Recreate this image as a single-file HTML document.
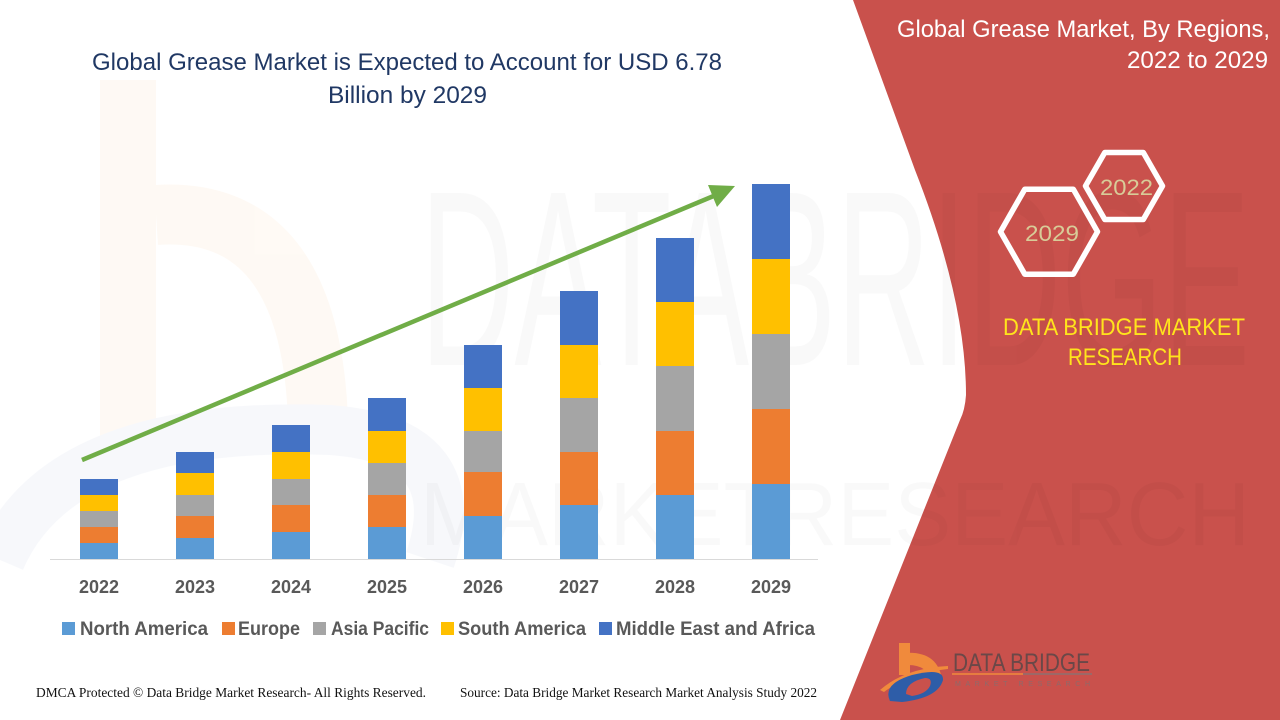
<!DOCTYPE html>
<html>
<head>
<meta charset="utf-8">
<style>
  html,body{margin:0;padding:0;background:#fff;}
  svg{display:block;}
  text{font-family:"Liberation Sans",sans-serif;}
</style>
</head>
<body>
<svg width="1280" height="720" viewBox="0 0 1280 720" xmlns="http://www.w3.org/2000/svg">
  <defs>
    <clipPath id="redclip"><path d="M853,0 L915,170 Q966,300 966,395 Q965,410 960,420 L840,720 L1280,720 L1280,0 Z"/></clipPath>
  </defs>
  <rect x="0" y="0" width="1280" height="720" fill="#ffffff"/>

  <!-- faint background watermark -->
  <g opacity="0.045">
    <rect x="100" y="80" width="56" height="370" fill="#F7931E"/>
    <path d="M156,215 Q310,205 318,420" fill="none" stroke="#F7931E" stroke-width="60"/>
    <path d="M0,560 Q60,420 330,430 Q470,440 430,560" fill="none" stroke="#5B7DB8" stroke-width="50"/>
  </g>
  <text x="420" y="365" font-size="250" fill="#000" opacity="0.018" textLength="830" lengthAdjust="spacingAndGlyphs">DATABRIDGE</text>
  <text x="420" y="545" font-size="90" fill="#000" opacity="0.018" textLength="830" lengthAdjust="spacingAndGlyphs">MARKETRESEARCH</text>

  <!-- red panel -->
  <path d="M853,0 L915,170 Q966,300 966,395 Q965,410 960,420 L840,720 L1280,720 L1280,0 Z" fill="#C9514C"/>
  <g clip-path="url(#redclip)">
    <text x="420" y="365" font-size="250" fill="#000" opacity="0.025" textLength="830" lengthAdjust="spacingAndGlyphs">DATABRIDGE</text>
    <text x="420" y="545" font-size="90" fill="#000" opacity="0.025" textLength="830" lengthAdjust="spacingAndGlyphs">MARKETRESEARCH</text>
  </g>

  <!-- main title -->
  <text x="92" y="70" font-size="24" fill="#203864" textLength="630" lengthAdjust="spacingAndGlyphs">Global Grease Market is Expected to Account for USD 6.78</text>
  <text x="328" y="103" font-size="24" fill="#203864" textLength="159" lengthAdjust="spacingAndGlyphs">Billion by 2029</text>

  <!-- right title -->
  <text x="897" y="37" font-size="24" fill="#ffffff" textLength="373" lengthAdjust="spacingAndGlyphs">Global Grease Market, By Regions,</text>
  <text x="1127" y="68" font-size="24" fill="#ffffff" textLength="141" lengthAdjust="spacingAndGlyphs">2022 to 2029</text>

  <!-- hexagons -->
  <polygon points="1000.5,231.7 1024.8,189.2 1073.3,189.2 1097.5,231.7 1073.3,274.2 1024.8,274.2" fill="none" stroke="#ffffff" stroke-width="5.5" stroke-linejoin="round"/>
  <polygon points="1085.5,186 1104.8,152.5 1143.3,152.5 1162.5,186 1143.3,219.5 1104.8,219.5" fill="none" stroke="#ffffff" stroke-width="5.5" stroke-linejoin="round"/>
  <text x="1025" y="241" font-size="22" fill="#D8CC98" textLength="54" lengthAdjust="spacingAndGlyphs">2029</text>
  <text x="1100" y="195" font-size="22" fill="#D8CC98" textLength="53" lengthAdjust="spacingAndGlyphs">2022</text>

  <!-- DBMR yellow -->
  <text x="1003" y="335" font-size="24" fill="#FFE41C" textLength="242" lengthAdjust="spacingAndGlyphs">DATA BRIDGE MARKET</text>
  <text x="1068" y="365" font-size="24" fill="#FFE41C" textLength="114" lengthAdjust="spacingAndGlyphs">RESEARCH</text>

  <!-- axis -->
  <line x1="50" y1="559.5" x2="818" y2="559.5" stroke="#D9D9D9" stroke-width="1"/>

  <!-- bars -->
  <g>
    <rect x="80" y="543" width="38" height="16" fill="#5B9BD5"/>
    <rect x="80" y="527" width="38" height="16" fill="#ED7D31"/>
    <rect x="80" y="511" width="38" height="16" fill="#A5A5A5"/>
    <rect x="80" y="495" width="38" height="16" fill="#FFC000"/>
    <rect x="80" y="479" width="38" height="16" fill="#4472C4"/>

    <rect x="176" y="538" width="38" height="21" fill="#5B9BD5"/>
    <rect x="176" y="516" width="38" height="22" fill="#ED7D31"/>
    <rect x="176" y="495" width="38" height="21" fill="#A5A5A5"/>
    <rect x="176" y="473" width="38" height="22" fill="#FFC000"/>
    <rect x="176" y="452" width="38" height="21" fill="#4472C4"/>

    <rect x="272" y="532" width="38" height="27" fill="#5B9BD5"/>
    <rect x="272" y="505" width="38" height="27" fill="#ED7D31"/>
    <rect x="272" y="479" width="38" height="26" fill="#A5A5A5"/>
    <rect x="272" y="452" width="38" height="27" fill="#FFC000"/>
    <rect x="272" y="425" width="38" height="27" fill="#4472C4"/>

    <rect x="368" y="527" width="38" height="32" fill="#5B9BD5"/>
    <rect x="368" y="495" width="38" height="32" fill="#ED7D31"/>
    <rect x="368" y="463" width="38" height="32" fill="#A5A5A5"/>
    <rect x="368" y="431" width="38" height="32" fill="#FFC000"/>
    <rect x="368" y="398" width="38" height="33" fill="#4472C4"/>

    <rect x="464" y="516" width="38" height="43" fill="#5B9BD5"/>
    <rect x="464" y="472" width="38" height="44" fill="#ED7D31"/>
    <rect x="464" y="431" width="38" height="41" fill="#A5A5A5"/>
    <rect x="464" y="388" width="38" height="43" fill="#FFC000"/>
    <rect x="464" y="345" width="38" height="43" fill="#4472C4"/>

    <rect x="560" y="505" width="38" height="54" fill="#5B9BD5"/>
    <rect x="560" y="452" width="38" height="53" fill="#ED7D31"/>
    <rect x="560" y="398" width="38" height="54" fill="#A5A5A5"/>
    <rect x="560" y="345" width="38" height="53" fill="#FFC000"/>
    <rect x="560" y="291" width="38" height="54" fill="#4472C4"/>

    <rect x="656" y="495" width="38" height="64" fill="#5B9BD5"/>
    <rect x="656" y="431" width="38" height="64" fill="#ED7D31"/>
    <rect x="656" y="366" width="38" height="65" fill="#A5A5A5"/>
    <rect x="656" y="302" width="38" height="64" fill="#FFC000"/>
    <rect x="656" y="238" width="38" height="64" fill="#4472C4"/>

    <rect x="752" y="484" width="38" height="75" fill="#5B9BD5"/>
    <rect x="752" y="409" width="38" height="75" fill="#ED7D31"/>
    <rect x="752" y="334" width="38" height="75" fill="#A5A5A5"/>
    <rect x="752" y="259" width="38" height="75" fill="#FFC000"/>
    <rect x="752" y="184" width="38" height="75" fill="#4472C4"/>
  </g>

  <!-- arrow -->
  <line x1="82" y1="460" x2="716" y2="195" stroke="#70AD47" stroke-width="4.5"/>
  <polygon points="735,186 708,185 717,207" fill="#70AD47"/>

  <!-- year labels -->
  <g font-size="18" font-weight="bold" fill="#595959" text-anchor="middle">
    <text x="99" y="593">2022</text>
    <text x="195" y="593">2023</text>
    <text x="291" y="593">2024</text>
    <text x="387" y="593">2025</text>
    <text x="483" y="593">2026</text>
    <text x="579" y="593">2027</text>
    <text x="675" y="593">2028</text>
    <text x="771" y="593">2029</text>
  </g>

  <!-- legend -->
  <rect x="62" y="622" width="13" height="13" fill="#5B9BD5"/>
  <text x="80" y="635" font-size="19" font-weight="bold" fill="#595959" textLength="128" lengthAdjust="spacingAndGlyphs">North America</text>
  <rect x="222" y="622" width="13" height="13" fill="#ED7D31"/>
  <text x="238" y="635" font-size="19" font-weight="bold" fill="#595959" textLength="62" lengthAdjust="spacingAndGlyphs">Europe</text>
  <rect x="313" y="622" width="13" height="13" fill="#A5A5A5"/>
  <text x="331" y="635" font-size="19" font-weight="bold" fill="#595959" textLength="98" lengthAdjust="spacingAndGlyphs">Asia Pacific</text>
  <rect x="441" y="622" width="13" height="13" fill="#FFC000"/>
  <text x="458" y="635" font-size="19" font-weight="bold" fill="#595959" textLength="128" lengthAdjust="spacingAndGlyphs">South America</text>
  <rect x="599" y="622" width="13" height="13" fill="#4472C4"/>
  <text x="616" y="635" font-size="19" font-weight="bold" fill="#595959" textLength="199" lengthAdjust="spacingAndGlyphs">Middle East and Africa</text>

  <!-- footer -->
  <text x="36" y="697" font-size="14" fill="#111" textLength="390" lengthAdjust="spacingAndGlyphs" style="font-family:'Liberation Serif',serif">DMCA Protected © Data Bridge Market Research- All Rights Reserved.</text>
  <text x="460" y="697" font-size="14" fill="#111" textLength="357" lengthAdjust="spacingAndGlyphs" style="font-family:'Liberation Serif',serif">Source: Data Bridge Market Research Market Analysis Study 2022</text>

  <!-- bottom logo -->
  <g>
    <rect x="899" y="643" width="11" height="32" fill="#F08A3C"/>
    <path d="M903,653 Q938,650 942,680 L931,682 Q928,664 906,665 Z" fill="#F08A3C"/>
    <path d="M880,690 Q905,668 948,666 L948,669 Q910,673 884,692 Z" fill="#F08A3C"/>
    <path d="M890,701 Q882,684 912,675 Q944,667 943,680 Q938,698 902,702 Z" fill="#2E5DA8"/>
    <path d="M906,694 Q906,682 925,678 Q933,678 930,686 Q926,694 912,696 Z" fill="#C9514C"/>
    <text x="953" y="671" font-size="25" fill="#6A4848" textLength="137" lengthAdjust="spacingAndGlyphs">DATA BRIDGE</text>
    <line x1="952" y1="674" x2="1023" y2="674" stroke="#F08A3C" stroke-width="1.5"/>
    <line x1="1023" y1="674" x2="1092" y2="674" stroke="#8E7070" stroke-width="1.5"/>
    <text x="955" y="686" font-size="7" fill="#8E6A6A" textLength="135" lengthAdjust="spacing">MARKET RESEARCH</text>
  </g>
</svg>
</body>
</html>
